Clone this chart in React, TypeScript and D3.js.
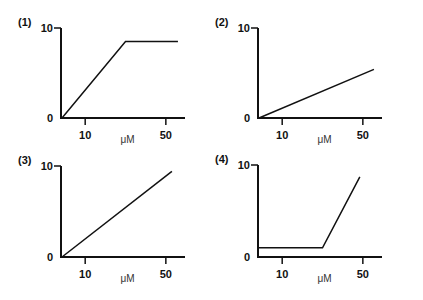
import React from "react";
import * as d3 from "d3";

// Concentration (µM) vs response for four panels
const panelLabels = ["(1)", "(2)", "(3)", "(4)"];
const xTicks = [10, 50];
const yTicks = [0, 10];
const xUnit = "μM";

const series1: [number, number][] = [[-1.5, 0], [30, 8.5], [56, 8.5]];
const series2: [number, number][] = [[-1.5, 0], [55.5, 5.4]];
const series3: [number, number][] = [[-1.5, 0], [53, 9.4]];
const series4: [number, number][] = [[-2, 1], [30, 1], [48.5, 8.7]];

const allSeries = [series1, series2, series3, series4];

// plot frames: left (y-axis), right, top (y=10), bottom (y=0)
const frames = [
  { left: 61, right: 185, top: 28, bottom: 118 },
  { left: 258, right: 382, top: 28, bottom: 118 },
  { left: 61, right: 185, top: 166, bottom: 257 },
  { left: 258, right: 382, top: 165, bottom: 257 },
];

const font = "'Liberation Sans', Arial, Helvetica, sans-serif";

function Panel({ idx }: { idx: number }) {
  const f = frames[idx];
  const x = d3.scaleLinear().domain([-2, 59.5]).range([f.left, f.right]);
  const y = d3.scaleLinear().domain([0, 10]).range([f.bottom, f.top]);
  const line = d3.line<[number, number]>().x((d) => x(d[0])).y((d) => y(d[1]));
  return (
    <g>
      <text x={f.left - 43} y={f.top - 2} fontFamily={font} fontWeight="bold" fontSize={11} fill="#111">
        {panelLabels[idx]}
      </text>
      {/* axes */}
      <line x1={f.left} x2={f.left} y1={f.top} y2={f.bottom + 1} stroke="#111" strokeWidth={2} />
      <line x1={f.left - 1} x2={f.right} y1={f.bottom} y2={f.bottom} stroke="#111" strokeWidth={2} />
      {yTicks.map((t) => (
        <g key={"y" + t}>
          {t !== 0 && (
            <line x1={f.left - 7} x2={f.left} y1={y(t)} y2={y(t)} stroke="#111" strokeWidth={1.5} />
          )}
          <text
            x={f.left - 8}
            y={y(t)}
            dy="0.36em"
            textAnchor="end"
            fontFamily={font}
            fontWeight="bold"
            fontSize={11}
            fill="#111"
          >
            {t}
          </text>
        </g>
      ))}
      {xTicks.map((t) => (
        <g key={"x" + t}>
          <line x1={x(t)} x2={x(t)} y1={f.bottom} y2={f.bottom + 7} stroke="#111" strokeWidth={1.5} />
          <text
            x={x(t)}
            y={f.bottom + 21}
            textAnchor="middle"
            fontFamily={font}
            fontWeight="bold"
            fontSize={11}
            fill="#111"
          >
            {t}
          </text>
        </g>
      ))}
      <text x={x(31)} y={f.bottom + 25} textAnchor="middle" fontFamily={font} fontSize={10} fill="#333">
        {xUnit}
      </text>
      <path d={line(allSeries[idx]) ?? ""} fill="none" stroke="#111" strokeWidth={1.5} />
    </g>
  );
}

export default function App() {
  return (
    <svg width={423} height={300} style={{ position: "absolute", left: 0, top: 0, background: "#fff" }}>
      <rect width={423} height={300} fill="#fff" />
      {frames.map((_, i) => (
        <Panel key={i} idx={i} />
      ))}
    </svg>
  );
}
